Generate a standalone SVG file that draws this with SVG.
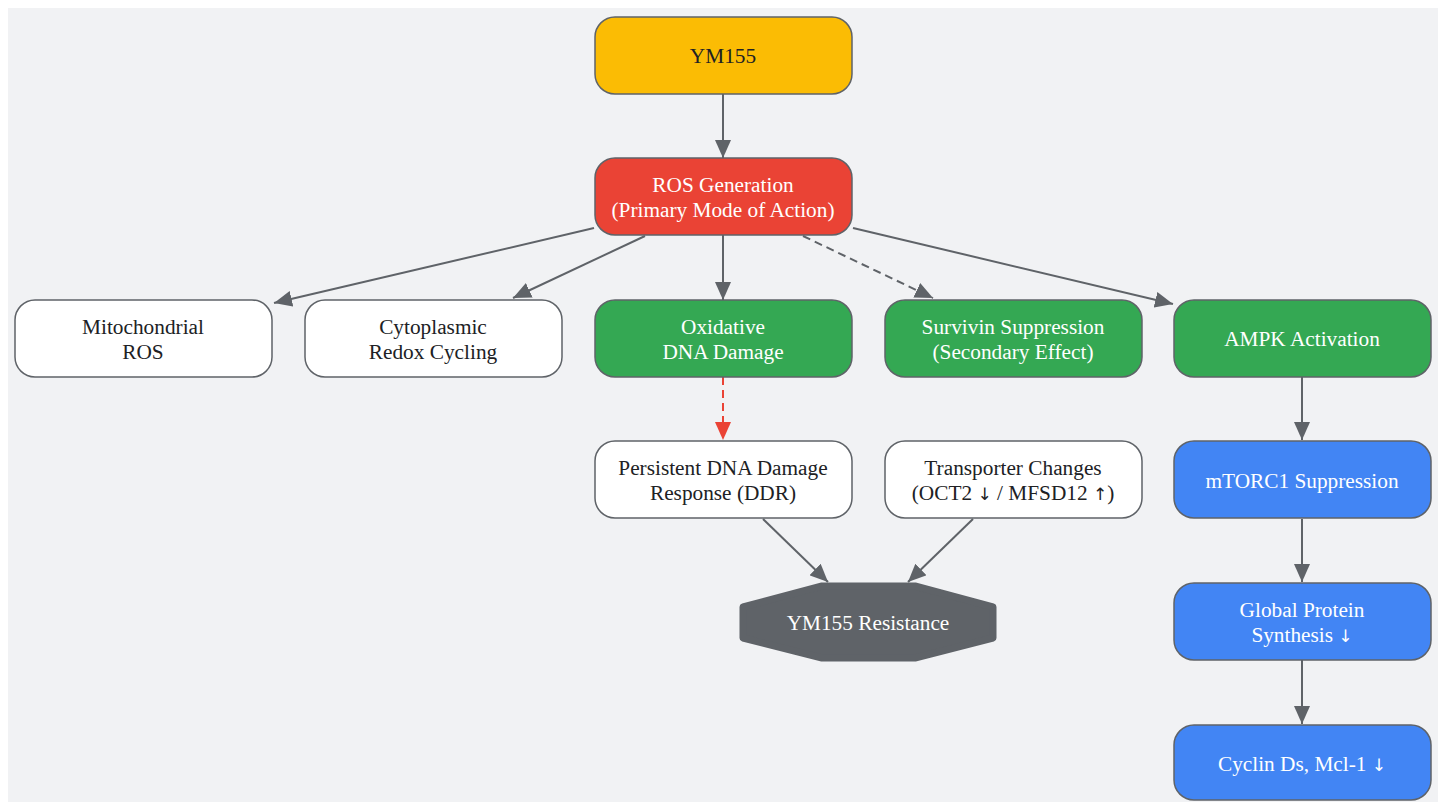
<svg xmlns="http://www.w3.org/2000/svg" width="1445" height="802" viewBox="0 0 1445 802">
<style>
.n rect{stroke:#5f6368;stroke-width:1.5}
.t{font-family:"Liberation Serif","DejaVu Serif",serif;font-size:21.3px;text-anchor:middle}
.ar{font-family:"DejaVu Sans",sans-serif;font-size:17px}
.d{fill:#202124}
.w{fill:#ffffff}
.e{fill:none;stroke:#5f6368;stroke-width:2}
</style>
<defs>
<marker id="a" markerUnits="userSpaceOnUse" markerWidth="20" markerHeight="16" refX="18" refY="8" orient="auto">
<path d="M0,0 L18,8 L0,16 Z" fill="#5f6368"/>
</marker>
<marker id="r" markerUnits="userSpaceOnUse" markerWidth="20" markerHeight="16" refX="18" refY="8" orient="auto">
<path d="M0,0 L18,8 L0,16 Z" fill="#ea4335"/>
</marker>
</defs>
<rect x="0" y="0" width="1445" height="802" fill="#ffffff"/>
<rect x="8" y="8" width="1430" height="800" fill="#f1f2f4"/>
<g id="edges">
<path class="e" d="M723,94 L723,158" marker-end="url(#a)"/>
<path class="e" d="M594,228 L274,303" marker-end="url(#a)"/>
<path class="e" d="M645,236 L513,298" marker-end="url(#a)"/>
<path class="e" d="M723,235 L723,300" marker-end="url(#a)"/>
<path class="e" d="M803,236 L933,298" stroke-dasharray="8,5" marker-end="url(#a)"/>
<path class="e" d="M853,228 L1173,304" marker-end="url(#a)"/>
<path d="M723,377 L723,440" fill="none" stroke="#ea4335" stroke-width="2" stroke-dasharray="8,5" marker-end="url(#r)"/>
<path class="e" d="M763,519 L828,582" marker-end="url(#a)"/>
<path class="e" d="M973,519 L908,582" marker-end="url(#a)"/>
<path class="e" d="M1302,377 L1302,440" marker-end="url(#a)"/>
<path class="e" d="M1302,519 L1302,582" marker-end="url(#a)"/>
<path class="e" d="M1302,660 L1302,724" marker-end="url(#a)"/>
</g>
<g id="ym155" class="n"><rect x="595" y="17" width="257" height="77" rx="20" fill="#fbbc04"/><text class="t d" x="723" y="63">YM155</text></g>
<g id="ros" class="n"><rect x="595" y="158" width="257" height="77" rx="20" fill="#ea4335"/><text class="t w" x="723" y="192">ROS Generation</text><text class="t w" x="723" y="217">(Primary Mode of Action)</text></g>
<g id="mito" class="n"><rect x="15" y="300" width="257" height="77" rx="20" fill="#ffffff"/><text class="t d" x="143" y="334">Mitochondrial</text><text class="t d" x="143" y="359">ROS</text></g>
<g id="cyto" class="n"><rect x="305" y="300" width="257" height="77" rx="20" fill="#ffffff"/><text class="t d" x="433" y="334">Cytoplasmic</text><text class="t d" x="433" y="359">Redox Cycling</text></g>
<g id="oxid" class="n"><rect x="595" y="300" width="257" height="77" rx="20" fill="#34a853"/><text class="t w" x="723" y="334">Oxidative</text><text class="t w" x="723" y="359">DNA Damage</text></g>
<g id="survivin" class="n"><rect x="885" y="300" width="257" height="77" rx="20" fill="#34a853"/><text class="t w" x="1013" y="334">Survivin Suppression</text><text class="t w" x="1013" y="359">(Secondary Effect)</text></g>
<g id="ampk" class="n"><rect x="1174" y="300" width="257" height="77" rx="20" fill="#34a853"/><text class="t w" x="1302" y="346">AMPK Activation</text></g>
<g id="ddr" class="n"><rect x="595" y="441" width="257" height="77" rx="20" fill="#ffffff"/><text class="t d" x="723" y="475">Persistent DNA Damage</text><text class="t d" x="723" y="500">Response (DDR)</text></g>
<g id="transporter" class="n"><rect x="885" y="441" width="257" height="77" rx="20" fill="#ffffff"/><text class="t d" x="1013" y="475">Transporter Changes</text><text class="t d" x="1013" y="500">(OCT2 <tspan class="ar">↓</tspan> / MFSD12 <tspan class="ar">↑</tspan>)</text></g>
<g id="mtorc1" class="n"><rect x="1174" y="441" width="257" height="77" rx="20" fill="#4285f4"/><text class="t w" x="1302" y="488">mTORC1 Suppression</text></g>
<g id="resistance"><path d="M822,586 L915,586 L993,607 L993,638 L915,658 L822,658 L743,638 L743,607 Z" fill="#5f6368" stroke="#5f6368" stroke-width="7" stroke-linejoin="round"/><text class="t w" x="868" y="630">YM155 Resistance</text></g>
<g id="protein" class="n"><rect x="1174" y="583" width="257" height="77" rx="20" fill="#4285f4"/><text class="t w" x="1302" y="617">Global Protein</text><text class="t w" x="1302" y="642">Synthesis <tspan class="ar">↓</tspan></text></g>
<g id="cyclin" class="n"><rect x="1174" y="725" width="257" height="75" rx="20" fill="#4285f4"/><text class="t w" x="1302" y="771">Cyclin Ds, Mcl-1 <tspan class="ar">↓</tspan></text></g>
</svg>
